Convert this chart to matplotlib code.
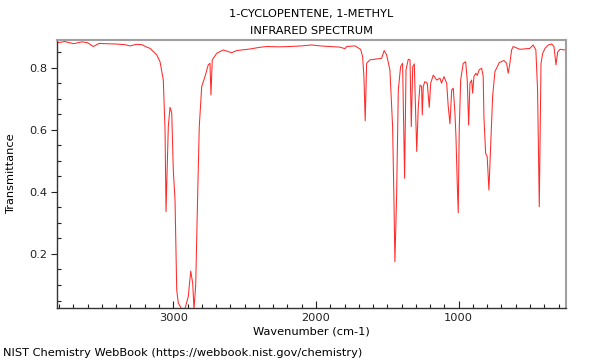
import numpy as np
import matplotlib
matplotlib.use("Agg")
import matplotlib.pyplot as plt
from matplotlib.ticker import MultipleLocator

# IR spectrum (wavenumber in cm-1, transmittance)
wavenumber = [
    3813, 3760, 3700, 3640, 3600, 3561, 3520, 3460, 3400, 3340, 3303, 3260, 3220,
    3186, 3163, 3116, 3093, 3070, 3058, 3051, 3035, 3023, 3011, 3000, 2988, 2976,
    2965, 2941, 2918, 2895, 2878, 2864, 2855, 2843, 2829, 2818, 2801, 2778, 2755,
    2743, 2736, 2727, 2696, 2650, 2591, 2556, 2463, 2400, 2346, 2260, 2182, 2100,
    2030, 1972, 1900, 1832, 1797, 1785, 1727, 1687, 1673, 1664, 1655, 1645, 1622,
    1575, 1540, 1522, 1505, 1482, 1463, 1454, 1447, 1435, 1423, 1407, 1393, 1379,
    1369, 1353, 1341, 1332, 1322, 1311, 1294, 1283, 1271, 1260, 1255, 1248, 1237,
    1220, 1206, 1196, 1178, 1154, 1131, 1120, 1103, 1084, 1073, 1061, 1049, 1038,
    1026, 1019, 1010, 1003, 996, 986, 968, 951, 940, 930, 921, 909, 902, 893, 879,
    870, 856, 839, 828, 823, 811, 800, 788, 776, 762, 746, 716, 683, 664, 653, 641,
    629, 618, 571, 501, 478, 459, 447, 435, 423, 411, 395, 372, 348, 332, 318, 306,
    290, 255,
]
transmittance = [
    0.880, 0.884, 0.877, 0.883, 0.880, 0.868, 0.878, 0.877, 0.876, 0.874, 0.870, 0.875, 0.874,
    0.866, 0.862, 0.841, 0.819, 0.760, 0.600, 0.336, 0.610, 0.672, 0.654, 0.470, 0.374, 0.084,
    0.042, 0.022, 0.024, 0.063, 0.145, 0.106, 0.022, 0.100, 0.396, 0.610, 0.739, 0.771, 0.809,
    0.814, 0.712, 0.825, 0.846, 0.857, 0.848, 0.855, 0.860, 0.865, 0.868, 0.867, 0.868, 0.870,
    0.873, 0.870, 0.868, 0.866, 0.861, 0.868, 0.870, 0.859, 0.835, 0.771, 0.629, 0.814, 0.825,
    0.828, 0.830, 0.855, 0.841, 0.793, 0.610, 0.385, 0.175, 0.385, 0.728, 0.803, 0.814, 0.444,
    0.793, 0.827, 0.825, 0.610, 0.803, 0.812, 0.530, 0.674, 0.744, 0.740, 0.648, 0.740, 0.755,
    0.750, 0.672, 0.750, 0.776, 0.760, 0.766, 0.750, 0.771, 0.750, 0.674, 0.619, 0.728, 0.734,
    0.653, 0.578, 0.428, 0.333, 0.600, 0.760, 0.814, 0.819, 0.760, 0.615, 0.750, 0.760, 0.718, 0.771, 0.782,
    0.775, 0.793, 0.798, 0.771, 0.642, 0.524, 0.513, 0.406, 0.546, 0.707, 0.787, 0.816, 0.823, 0.814, 0.782, 0.814,
    0.857, 0.868, 0.859, 0.862, 0.873, 0.857, 0.728, 0.352, 0.814, 0.846, 0.862, 0.873, 0.876, 0.868, 0.809, 0.850,
    0.859, 0.857,
]

x_limits = (3813, 250)
y_limits = (0.027, 0.889)

fig = plt.figure(figsize=(6, 3.6), dpi=100)
ax = fig.add_axes([0.0955, 0.1453, 0.8473, 0.7436])

ax.plot(wavenumber, transmittance, color="#ff2a2a", lw=0.75)
ax.set_xlim(*x_limits)
ax.set_ylim(*y_limits)

ax.xaxis.set_major_locator(MultipleLocator(1000))
ax.xaxis.set_minor_locator(MultipleLocator(100))
ax.yaxis.set_major_locator(MultipleLocator(0.2))
ax.yaxis.set_minor_locator(MultipleLocator(0.05))
ax.tick_params(axis="both", which="major", direction="in", length=5, width=0.8, labelsize=8.2, colors="#222222")
ax.tick_params(axis="both", which="minor", direction="in", length=3, width=0.8, colors="#222222")
ax.tick_params(axis="y", which="major", direction="out", length=4)

for side in ("top", "right"):
    ax.spines[side].set_color("#a0a0a0")
    ax.spines[side].set_linewidth(1.5)
for side in ("left", "bottom"):
    ax.spines[side].set_color("#333333")
    ax.spines[side].set_linewidth(1.0)

ax.set_xlabel("Wavenumber (cm-1)", fontsize=8.2, labelpad=3)
ax.set_ylabel("Transmittance", fontsize=8.2, labelpad=9)

# title sits over the plot area, two lines
cx = 0.0955 + 0.8473 / 2
fig.text(cx, 0.961, "1-CYCLOPENTENE, 1-METHYL", ha="center", va="center", fontsize=8.2)
fig.text(cx, 0.915, "INFRARED SPECTRUM", ha="center", va="center", fontsize=8.2)
fig.text(0.005, 0.02, "NIST Chemistry WebBook (https://webbook.nist.gov/chemistry)",
         ha="left", va="center", fontsize=8.2)

fig.savefig("out.png", dpi=100)
plt.close(fig)
